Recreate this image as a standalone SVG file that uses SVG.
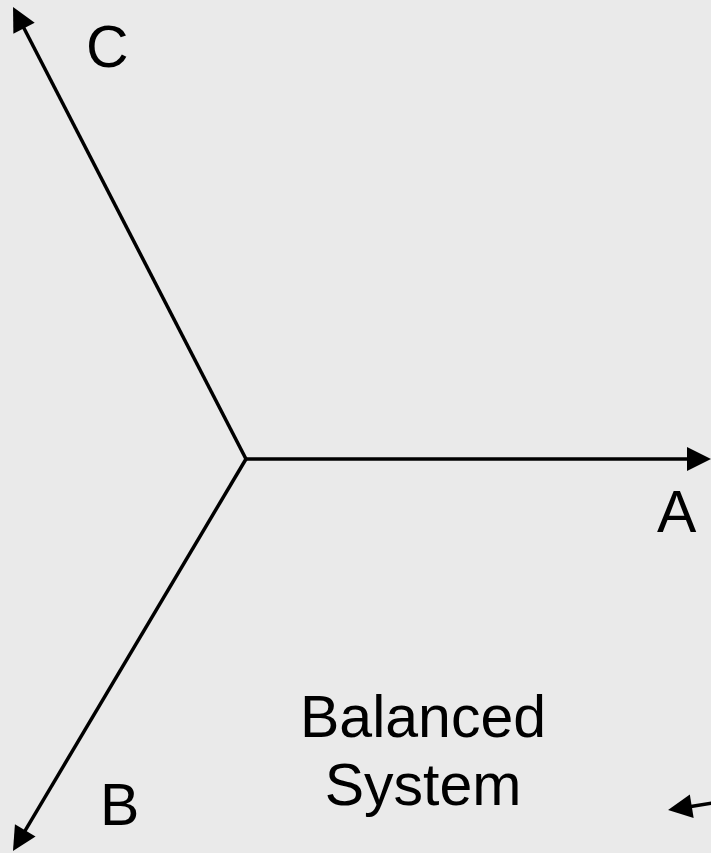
<svg xmlns="http://www.w3.org/2000/svg" width="711" height="853" viewBox="0 0 711 853">
  <style>
    .axis { stroke: #000; stroke-width: 3.5; fill: none; marker-end: url(#head); }
    .lbl { font-family: "Liberation Sans", Arial, sans-serif; font-size: 59px; fill: #000; }
  </style>
  <defs>
    <marker id="head" markerUnits="userSpaceOnUse" markerWidth="26" markerHeight="26" viewBox="0 -13 26 26" refX="4" refY="0" orient="auto" overflow="visible">
      <path d="M0,-12 L24,0 L0,12 z" fill="#000"/>
    </marker>
  </defs>
  <rect width="711" height="853" fill="#eaeaea"/>

  <!-- phasor arrows from the common origin -->
  <g id="connectors">
    <line class="axis" x1="246" y1="459" x2="691" y2="459"/>
    <line class="axis" x1="246" y1="459" x2="22.2" y2="24.8"/>
    <line class="axis" x1="246" y1="459" x2="23.2" y2="833.8"/>
    <line class="axis" x1="712" y1="803" x2="687.8" y2="806.9"/>
  </g>

  <g id="label-A"><text class="lbl" x="657" y="532">A</text></g>
  <g id="label-B"><text class="lbl" x="100" y="825">B</text></g>
  <g id="label-C"><text class="lbl" x="86" y="67">C</text></g>
  <g id="caption">
    <text class="lbl" x="423" y="737" text-anchor="middle">Balanced</text>
    <text class="lbl" x="423" y="805" text-anchor="middle">System</text>
  </g>
</svg>
